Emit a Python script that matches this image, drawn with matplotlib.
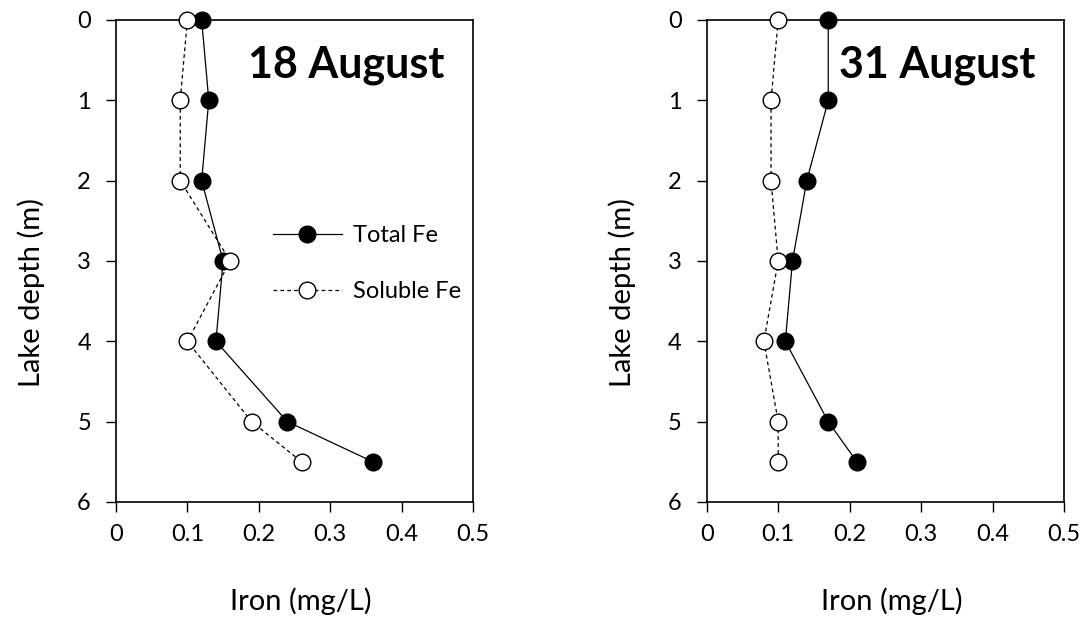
import numpy as np
import matplotlib.pyplot as plt

plt.rcParams['font.family'] = ['Lato', 'DejaVu Sans']

depth = [0, 1, 2, 3, 4, 5, 5.5]

# 18 August profile
total_aug18 = [0.12, 0.13, 0.12, 0.15, 0.14, 0.24, 0.36]
soluble_aug18 = [0.10, 0.09, 0.09, 0.16, 0.10, 0.19, 0.26]

# 31 August profile
total_aug31 = [0.17, 0.17, 0.14, 0.12, 0.11, 0.17, 0.21]
soluble_aug31 = [0.10, 0.09, 0.09, 0.10, 0.08, 0.10, 0.10]

xticks = [0, 0.1, 0.2, 0.3, 0.4, 0.5]
xticklabels = ['0', '0.1', '0.2', '0.3', '0.4', '0.5']
yticks = [0, 1, 2, 3, 4, 5, 6]

fig = plt.figure(figsize=(10.86, 6.17), dpi=100)
ax1 = fig.add_axes([0.1068, 0.1864, 0.3287, 0.7812])
ax2 = fig.add_axes([0.6507, 0.1864, 0.3293, 0.7812])

panels = [(ax1, total_aug18, soluble_aug18, '18 August'),
          (ax2, total_aug31, soluble_aug31, '31 August')]

for ax, tot, sol, title in panels:
    ax.plot(tot, depth, '-', color='black', lw=0.9, marker='o', ms=12,
            mfc='black', mec='black', mew=1.0, clip_on=False, zorder=3,
            label='Total Fe')
    ax.plot(sol, depth, '--', color='black', lw=0.9, dashes=(3, 2.5),
            marker='o', ms=12, mfc='white', mec='black', mew=1.0,
            clip_on=False, zorder=4, label='Soluble Fe')
    ax.set_xlim(0, 0.5)
    ax.set_ylim(6, 0)
    ax.set_xticks(xticks)
    ax.set_xticklabels(xticklabels)
    ax.set_yticks(yticks)
    ax.tick_params(direction='out', length=7, width=1, labelsize=17,
                   color='black')
    ax.tick_params(axis='x', pad=9)
    ax.tick_params(axis='y', pad=11)
    for sp in ax.spines.values():
        sp.set_linewidth(1.2)
    ax.set_xlabel('Iron (mg/L)', fontsize=21)
    ax.set_ylabel('Lake depth (m)', fontsize=21)
    ax.xaxis.set_label_coords(0.518, -0.178)
    ax.yaxis.set_label_coords(-0.198, 0.434)
    ax.text(0.645, 0.907, title, transform=ax.transAxes, fontsize=31,
            fontweight='bold', ha='center', va='center')

leg = ax1.legend(loc='upper left', bbox_to_anchor=(0.44, 0.574), frameon=False,
                 fontsize=17, handlelength=2.9, handletextpad=0.5,
                 labelspacing=1.47, borderpad=0, borderaxespad=0)

fig.savefig('out.png', dpi=100)
